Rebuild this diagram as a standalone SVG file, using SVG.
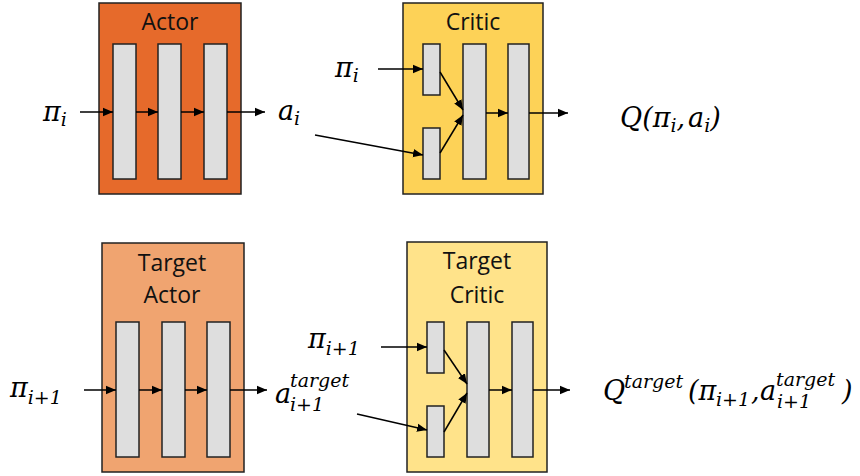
<svg xmlns="http://www.w3.org/2000/svg" width="860" height="476" viewBox="0 0 860 476">
<defs>
<marker id="ah" markerUnits="userSpaceOnUse" markerWidth="10" markerHeight="10" viewBox="0 0 10 10" refX="10" refY="5" orient="auto">
<path d="M0,0.8 L10,5 L0,9.2 Z" fill="#000"/>
</marker>
<style>
.box{stroke:#222;stroke-width:1.5}
.bar{fill:#dedede;stroke:#222;stroke-width:1.5}
.ttl{font-family:"Open Sans","Liberation Sans",sans-serif;font-size:23px;fill:#111;text-anchor:middle}
.m{font-family:"DejaVu Serif",serif;font-style:italic;font-size:27px;fill:#000}
.s{font-size:19px}
.ar{stroke:#000;stroke-width:1.5;fill:none;marker-end:url(#ah)}
</style>
</defs>
<rect width="860" height="476" fill="#fff"/>

<g id="actor">
<rect class="box" x="99" y="3" width="142" height="191" fill="#E66A2B"/>
<text class="ttl" x="170" y="30">Actor</text>
<rect class="bar" x="113" y="44" width="23" height="135"/>
<rect class="bar" x="158" y="44" width="23" height="135"/>
<rect class="bar" x="204" y="44" width="23" height="135"/>
</g>

<g id="critic">
<rect class="box" x="403" y="3" width="140" height="191" fill="#FDD257"/>
<text class="ttl" x="473" y="30">Critic</text>
<rect class="bar" x="423" y="44" width="17" height="51"/>
<rect class="bar" x="423" y="128" width="17" height="51"/>
<rect class="bar" x="463" y="44" width="23" height="135"/>
<rect class="bar" x="508" y="44" width="21" height="135"/>
</g>

<g id="target-actor">
<rect class="box" x="102" y="243" width="142" height="229" fill="#F0A470"/>
<text class="ttl" x="172" y="271">Target</text>
<text class="ttl" x="172" y="303">Actor</text>
<rect class="bar" x="116" y="322" width="23" height="135"/>
<rect class="bar" x="162" y="322" width="23" height="135"/>
<rect class="bar" x="207" y="322" width="23" height="135"/>
</g>

<g id="target-critic">
<rect class="box" x="407" y="242" width="140" height="230" fill="#FFE38A"/>
<text class="ttl" x="477" y="269">Target</text>
<text class="ttl" x="477" y="303">Critic</text>
<rect class="bar" x="427" y="322" width="17" height="51"/>
<rect class="bar" x="427" y="406" width="17" height="51"/>
<rect class="bar" x="467" y="322" width="22" height="135"/>
<rect class="bar" x="512" y="322" width="21" height="135"/>
</g>

<g id="connectors">
<line class="ar" x1="80" y1="112" x2="113" y2="112"/>
<line class="ar" x1="136" y1="112" x2="158" y2="112"/>
<line class="ar" x1="181" y1="112" x2="204" y2="112"/>
<line class="ar" x1="227" y1="112" x2="265" y2="112"/>

<line class="ar" x1="378" y1="69" x2="423" y2="69"/>
<line class="ar" x1="315" y1="135" x2="423" y2="155"/>
<line class="ar" x1="440" y1="72" x2="463" y2="110"/>
<line class="ar" x1="440" y1="153" x2="463" y2="115"/>
<line class="ar" x1="486" y1="113" x2="508" y2="113"/>
<line class="ar" x1="529" y1="113" x2="568" y2="113"/>

<line class="ar" x1="84" y1="390" x2="116" y2="390"/>
<line class="ar" x1="139" y1="390" x2="162" y2="390"/>
<line class="ar" x1="185" y1="390" x2="207" y2="390"/>
<line class="ar" x1="230" y1="390" x2="267" y2="390"/>

<line class="ar" x1="381" y1="347" x2="427" y2="347"/>
<line class="ar" x1="357" y1="414" x2="427" y2="430"/>
<line class="ar" x1="444" y1="350" x2="467" y2="384"/>
<line class="ar" x1="444" y1="432" x2="467" y2="393"/>
<line class="ar" x1="489" y1="390" x2="512" y2="390"/>
<line class="ar" x1="533" y1="390" x2="570" y2="390"/>
</g>

<g id="labels">
<text class="m" x="43" y="121">π<tspan class="s" dy="5">i</tspan></text>
<text class="m" x="278" y="120">a<tspan class="s" dy="5">i</tspan></text>
<text class="m" x="335" y="77">π<tspan class="s" dy="5">i</tspan></text>
<text class="m" x="620" y="127">Q(π<tspan class="s" dy="5">i</tspan><tspan dy="-5">,</tspan><tspan dx="3">a</tspan><tspan class="s" dy="5">i</tspan><tspan dy="-5">)</tspan></text>

<text class="m" x="10" y="397">π<tspan class="s" dy="7">i+1</tspan></text>
<text class="m" x="275" y="403">a</text>
<text class="m s" x="290" y="387">target</text>
<text class="m s" x="290" y="411">i+1</text>
<text class="m" x="308" y="348">π<tspan class="s" dy="7">i+1</tspan></text>

<text class="m" x="603" y="400">Q</text>
<text class="m s" x="624" y="388">target</text>
<text class="m" x="688" y="400">(π</text>
<text class="m s" x="716" y="406">i+1</text>
<text class="m" x="751" y="400">,</text>
<text class="m" x="760" y="400">a</text>
<text class="m s" x="776" y="386">target</text>
<text class="m s" x="777" y="408">i+1</text>
<text class="m" x="842" y="400">)</text>
</g>
</svg>
